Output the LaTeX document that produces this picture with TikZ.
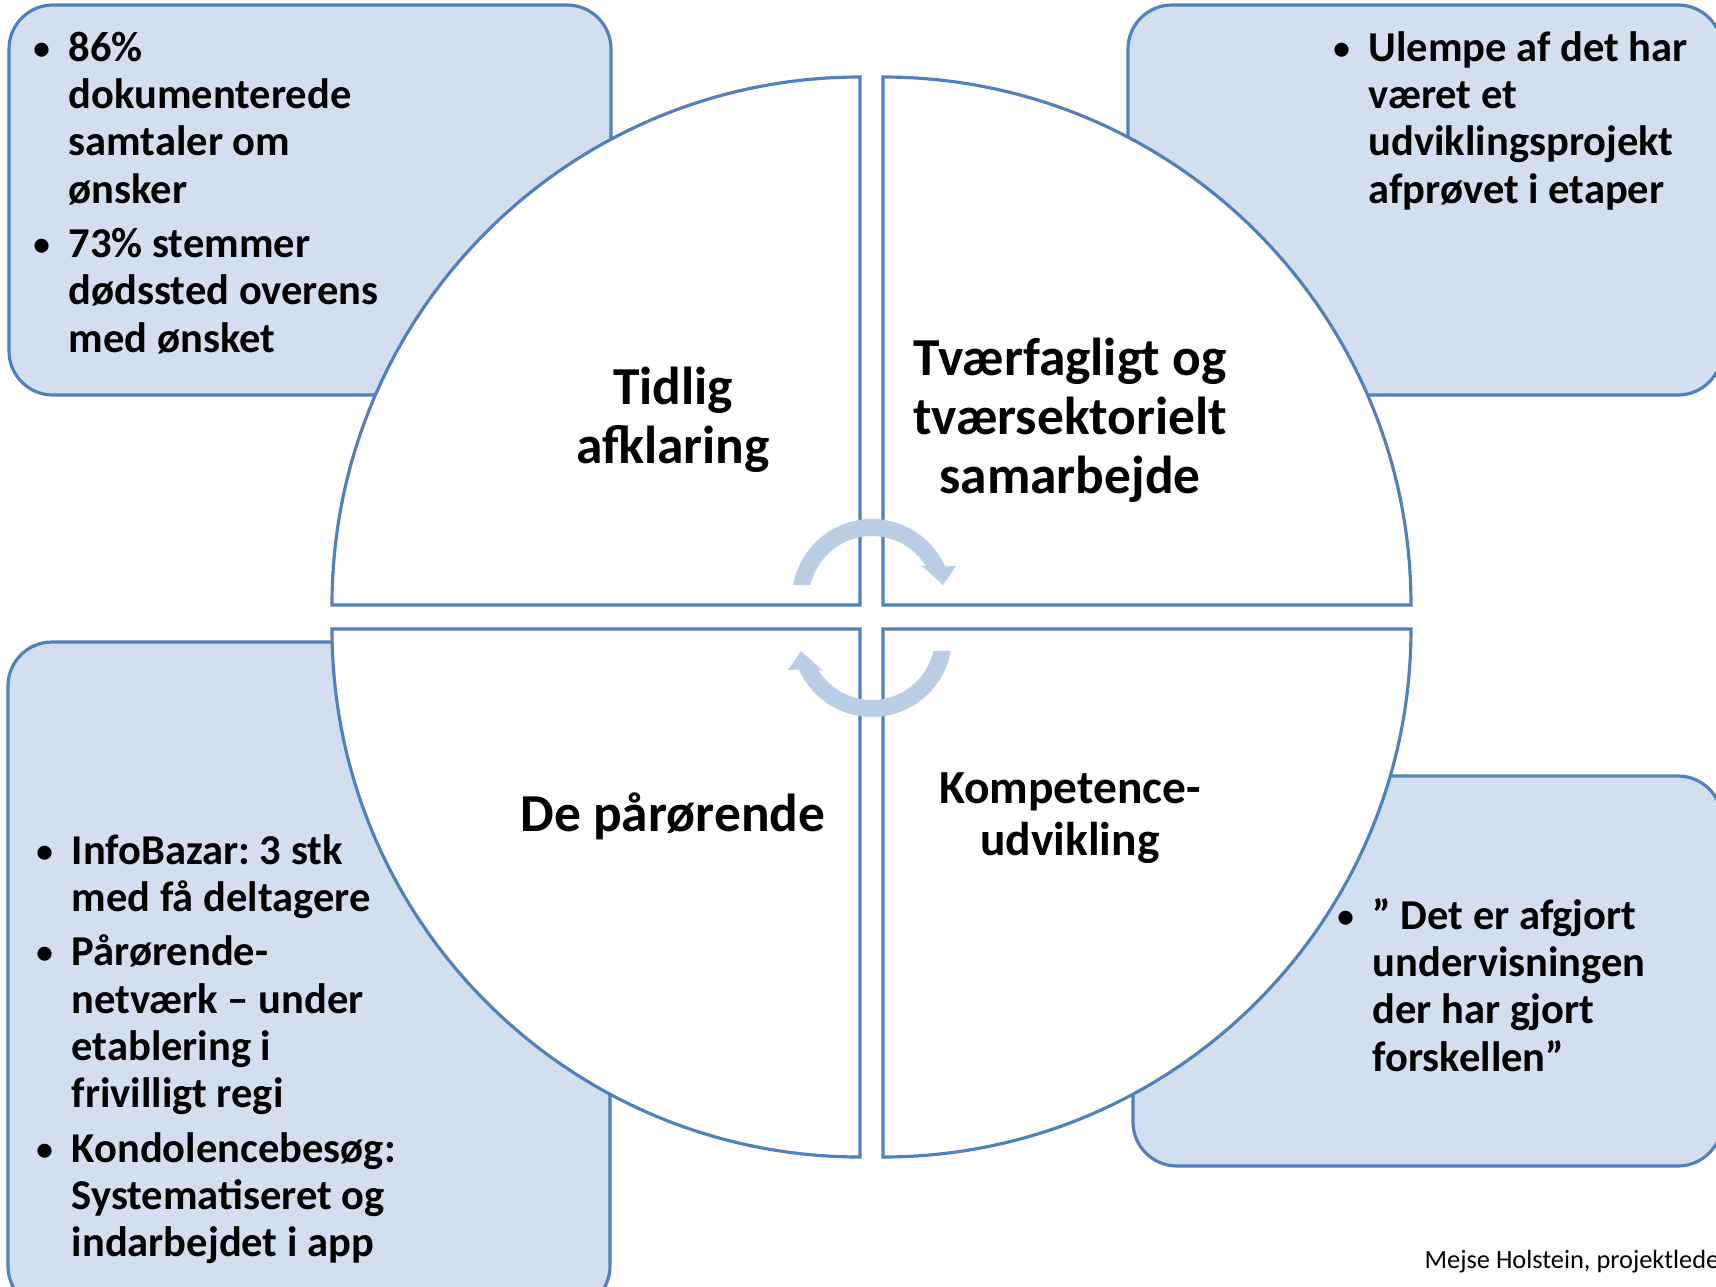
\documentclass[tikz,border=0pt]{standalone}
\usepackage{fontspec}
\setmainfont{Carlito}
\usepackage{tikz}
\frenchspacing

\definecolor{boxfill}{RGB}{211,223,238}
\definecolor{boxline}{RGB}{79,129,189}
\definecolor{arrowfill}{RGB}{185,205,229}
\newcommand{\bul}{\leavevmode\llap{\makebox[0.54cm]{\raisebox{0.5pt}{\scalebox{0.78}{•}}}}}

\begin{document}
\begin{tikzpicture}[box/.style={draw=boxline, fill=boxfill, line width=0.9pt, rounded corners=0.44cm},
  quarter/.style={draw=boxline, fill=white, line width=0.9pt},
  turn/.style={fill=arrowfill},
  list/.style={anchor=base west, inner sep=0pt, font=\fontsize{12.1pt}{13.5pt}\selectfont\bfseries},
  title/.style={anchor=base, inner sep=0pt, font=\fontsize{15.2pt}{16.8pt}\selectfont\bfseries}]

\useasboundingbox (0,0) rectangle (17.16,-12.87);
\fill[white] (0,0) rectangle (17.16,-12.87);
\clip (0,0) rectangle (17.16,-12.87);

% boxes behind the circle
\draw[box] (0.09,-0.05) rectangle (6.11,-3.95);
\draw[box] (11.28,-0.05) rectangle (17.22,-3.95);
\draw[box] (0.08,-6.42) rectangle (6.10,-13.10);
\draw[box] (11.33,-7.76) rectangle (17.22,-11.66);

% the four quarters
\draw[quarter] (8.60,-6.05) -- ++(-5.28,0) arc[start angle=180,end angle=90,radius=5.28] -- cycle;
\draw[quarter] (8.83,-6.05) -- ++(0,5.28) arc[start angle=90,end angle=0,radius=5.28] -- cycle;
\draw[quarter] (8.60,-6.29) -- ++(0,-5.28) arc[start angle=270,end angle=180,radius=5.28] -- cycle;
\draw[quarter] (8.83,-6.29) -- ++(5.28,0) arc[start angle=0,end angle=-90,radius=5.28] -- cycle;

% turning arrows
\begin{scope}[shift={(8.72,-5.99)}]
  \fill[turn] (170:0.80) arc[start angle=170,end angle=24,radius=0.80] -- (0.84,0.33) -- (0.71,0.14) -- (0.49,0.34) -- (31:0.63) arc[start angle=31,end angle=167,radius=0.63] -- cycle;
\end{scope}
\begin{scope}[shift={(8.72,-6.37)},rotate=180]
  \fill[turn] (170:0.80) arc[start angle=170,end angle=24,radius=0.80] -- (0.84,0.33) -- (0.71,0.14) -- (0.49,0.34) -- (31:0.63) arc[start angle=31,end angle=167,radius=0.63] -- cycle;
\end{scope}

\node[title] (tidlig) at (6.73,-4.04) {\parbox[t]{4cm}{\centering Tidlig\\afklaring}};
\node[title] (tvaer) at (10.70,-3.755) {\parbox[t]{4.5cm}{\centering Tværfagligt og\\tværsektorielt\\samarbejde}};
\node[title] (paaroer) at (6.73,-8.31) {De pårørende};
\node[title, font=\fontsize{13.5pt}{14.8pt}\selectfont\bfseries] (komp) at (10.70,-8.03) {\parbox[t]{4cm}{\centering Kompetence-\\udvikling}};

\node[list] (tl) at (0.68,-0.61) {\parbox[t]{6cm}{\bul 86\%\\dokumenterede\\samtaler om\\ønsker\par\vspace{1.9pt}
  \bul 73\% stemmer\\dødssted overens\\med ønsket}};
\node[list] (tr) at (13.68,-0.61) {\parbox[t]{4cm}{\bul Ulempe af det har\\været et\\udviklingsprojekt\\afprøvet i etaper}};
\node[list] (bl) at (0.71,-8.64) {\parbox[t]{6cm}{\bul InfoBazar: 3 stk\\med få deltagere\par\vspace{1.9pt}
  \bul Pårørende-\\netværk – under\\etablering i\\frivilligt regi\par\vspace{1.9pt}
  \bul Kondolencebesøg:\\Systematiseret og\\indarbejdet i app}};
\node[list] (br) at (13.72,-9.29) {\parbox[t]{4cm}{\bul ” Det er afgjort\\undervisningen\\der har gjort\\forskellen”}};

\node[anchor=base west, inner sep=0pt, font=\fontsize{7.5pt}{9pt}\selectfont] (sign) at (14.24,-12.68) {Mejse Holstein, projektleder};

\end{tikzpicture}
\end{document}
